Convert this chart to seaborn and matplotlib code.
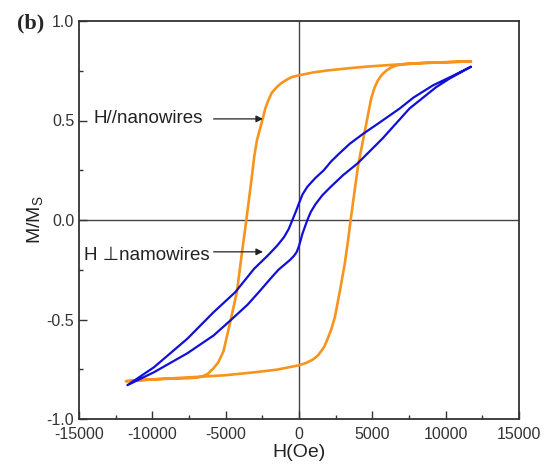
import matplotlib
matplotlib.use("Agg")
import matplotlib.pyplot as plt
from matplotlib.ticker import MultipleLocator
import seaborn as sns

# ---- data ----
orange_down_H = [11720, 9000, 6400, 4500, 3460, 2000, 1000, 0, -500, -835, -1200, -1515, -1850,
                 -2100, -2300, -2470, -2650, -2870, -3050, -3210, -3400, -3590, -3900, -4230,
                 -4680, -5150, -5500, -5840, -6200, -6600, -7000, -7500, -9900, -11800]
orange_down_M = [0.797, 0.79, 0.78, 0.77, 0.763, 0.752, 0.742, 0.727, 0.718, 0.705, 0.688, 0.668, 0.64,
                 0.60, 0.56, 0.51, 0.46, 0.40, 0.32, 0.22, 0.11, 0.0, -0.17, -0.36,
                 -0.51, -0.66, -0.715, -0.746, -0.772, -0.787, -0.792, -0.795, -0.80, -0.81]
orange_up_H = [-11800, -9000, -6600, -5000, -3000, -1500, 0, 500, 970, 1300, 1500, 1700, 1880, 2200,
               2440, 2780, 3120, 3350, 3520, 3780, 4030, 4470, 4920, 5150, 5370, 5650, 5940, 6250,
               6620, 7200, 8500, 11720]
orange_up_M = [-0.81, -0.797, -0.787, -0.78, -0.765, -0.752, -0.73, -0.718, -0.70, -0.68, -0.66, -0.64,
               -0.61, -0.55, -0.49, -0.36, -0.22, -0.10, 0.0, 0.14, 0.274, 0.44, 0.61, 0.665, 0.70,
               0.73, 0.75, 0.765, 0.776, 0.784, 0.79, 0.797]

blue_down_H = [11720, 10500, 9120, 7800, 6860, 5500, 4370, 3460, 2830, 2200, 1690, 1100, 570, 250, 0,
               -200, -450, -700, -1020, -1500, -2150, -3060, -4350, -5820, -7620, -9890, -11700]
blue_down_M = [0.77, 0.725, 0.676, 0.615, 0.56, 0.49, 0.433, 0.383, 0.34, 0.295, 0.25, 0.21, 0.167,
               0.13, 0.084, 0.045, 0.0, -0.045, -0.086, -0.13, -0.18, -0.245, -0.363, -0.463,
               -0.597, -0.74, -0.83]
blue_up_H = [-11700, -9890, -7620, -5820, -4680, -3500, -2650, -1950, -1400, -1000, -600, -340, -150, 0,
             120, 230, 400, 570, 800, 1130, 1600, 2140, 3000, 4000, 5700, 7530, 9340, 10250, 11720]
blue_up_M = [-0.83, -0.765, -0.67, -0.58, -0.505, -0.425, -0.355, -0.295, -0.25, -0.225, -0.20, -0.18,
             -0.16, -0.13, -0.10, -0.07, -0.035, 0.0, 0.04, 0.08, 0.125, 0.165, 0.225, 0.285, 0.41,
             0.56, 0.667, 0.71, 0.77]

x_ticks = [-15000, -10000, -5000, 0, 5000, 10000, 15000]
y_ticks = [-1.0, -0.5, 0.0, 0.5, 1.0]
label_par = "H//nanowires"
label_perp = "H \u22a5namowires"

# ---- style ----
sns.set_style("ticks")
plt.rcParams["font.family"] = ["Liberation Sans", "DejaVu Sans"]
plt.rcParams["axes.unicode_minus"] = False
plt.rcParams["mathtext.default"] = "regular"

fig = plt.figure(figsize=(5.45, 4.67), dpi=100)
ax = fig.add_axes([79 / 545, 1 - 419 / 467, 440 / 545, 398 / 467])

orange = "#F7941D"
blue = "#1010D8"

sns.lineplot(x=orange_down_H + orange_up_H, y=orange_down_M + orange_up_M, sort=False,
             estimator=None, color=orange, lw=1.9, ax=ax)
sns.lineplot(x=blue_down_H + blue_up_H, y=blue_down_M + blue_up_M, sort=False,
             estimator=None, color=blue, lw=1.6, ax=ax)

ax.axhline(0, color="#444444", lw=1.0, zorder=0)
ax.axvline(0, color="#444444", lw=1.0, zorder=0)

ax.set_xlim(-15000, 15000)
ax.set_ylim(-1.0, 1.0)
ax.set_xticks(x_ticks)
ax.set_yticks(y_ticks)
ax.set_xticklabels([str(v) for v in x_ticks])
ax.set_yticklabels([f"{v:.1f}" for v in y_ticks])
ax.xaxis.set_minor_locator(MultipleLocator(2500))
ax.yaxis.set_minor_locator(MultipleLocator(0.25))
ax.tick_params(which="major", direction="in", length=6, width=1.0, labelsize=11.5,
               colors="#333333", labelcolor="#333333", top=False, right=False)
ax.tick_params(which="minor", direction="in", length=3, width=1.0, colors="#333333",
               top=False, right=False)
ax.tick_params(axis="x", pad=6)
for s in ax.spines.values():
    s.set_visible(True)
    s.set_color("#333333")
    s.set_linewidth(1.3)

ax.set_xlabel("H(Oe)", fontsize=14, labelpad=1, color="#222222")
ax.set_ylabel("M/M$_S$", fontsize=14, labelpad=1, color="#222222")

ax.text(-14040, 0.508, label_par, fontsize=13.5, ha="left", va="center", color="#222222")
ax.annotate("", xy=(-2270, 0.508), xytext=(-6010, 0.508),
            arrowprops=dict(arrowstyle="-|>", color="#222222", lw=0.9, mutation_scale=10))
ax.text(-14630, -0.176, label_perp, fontsize=13.5, ha="left", va="center", color="#222222")
ax.annotate("", xy=(-2270, -0.16), xytext=(-6010, -0.16),
            arrowprops=dict(arrowstyle="-|>", color="#222222", lw=0.9, mutation_scale=10))

fig.text(31 / 545, 1 - 23 / 467, "(b)", fontsize=16, fontweight="bold",
         family="Liberation Serif", ha="center", va="center")

fig.savefig("out.png", dpi=100)
